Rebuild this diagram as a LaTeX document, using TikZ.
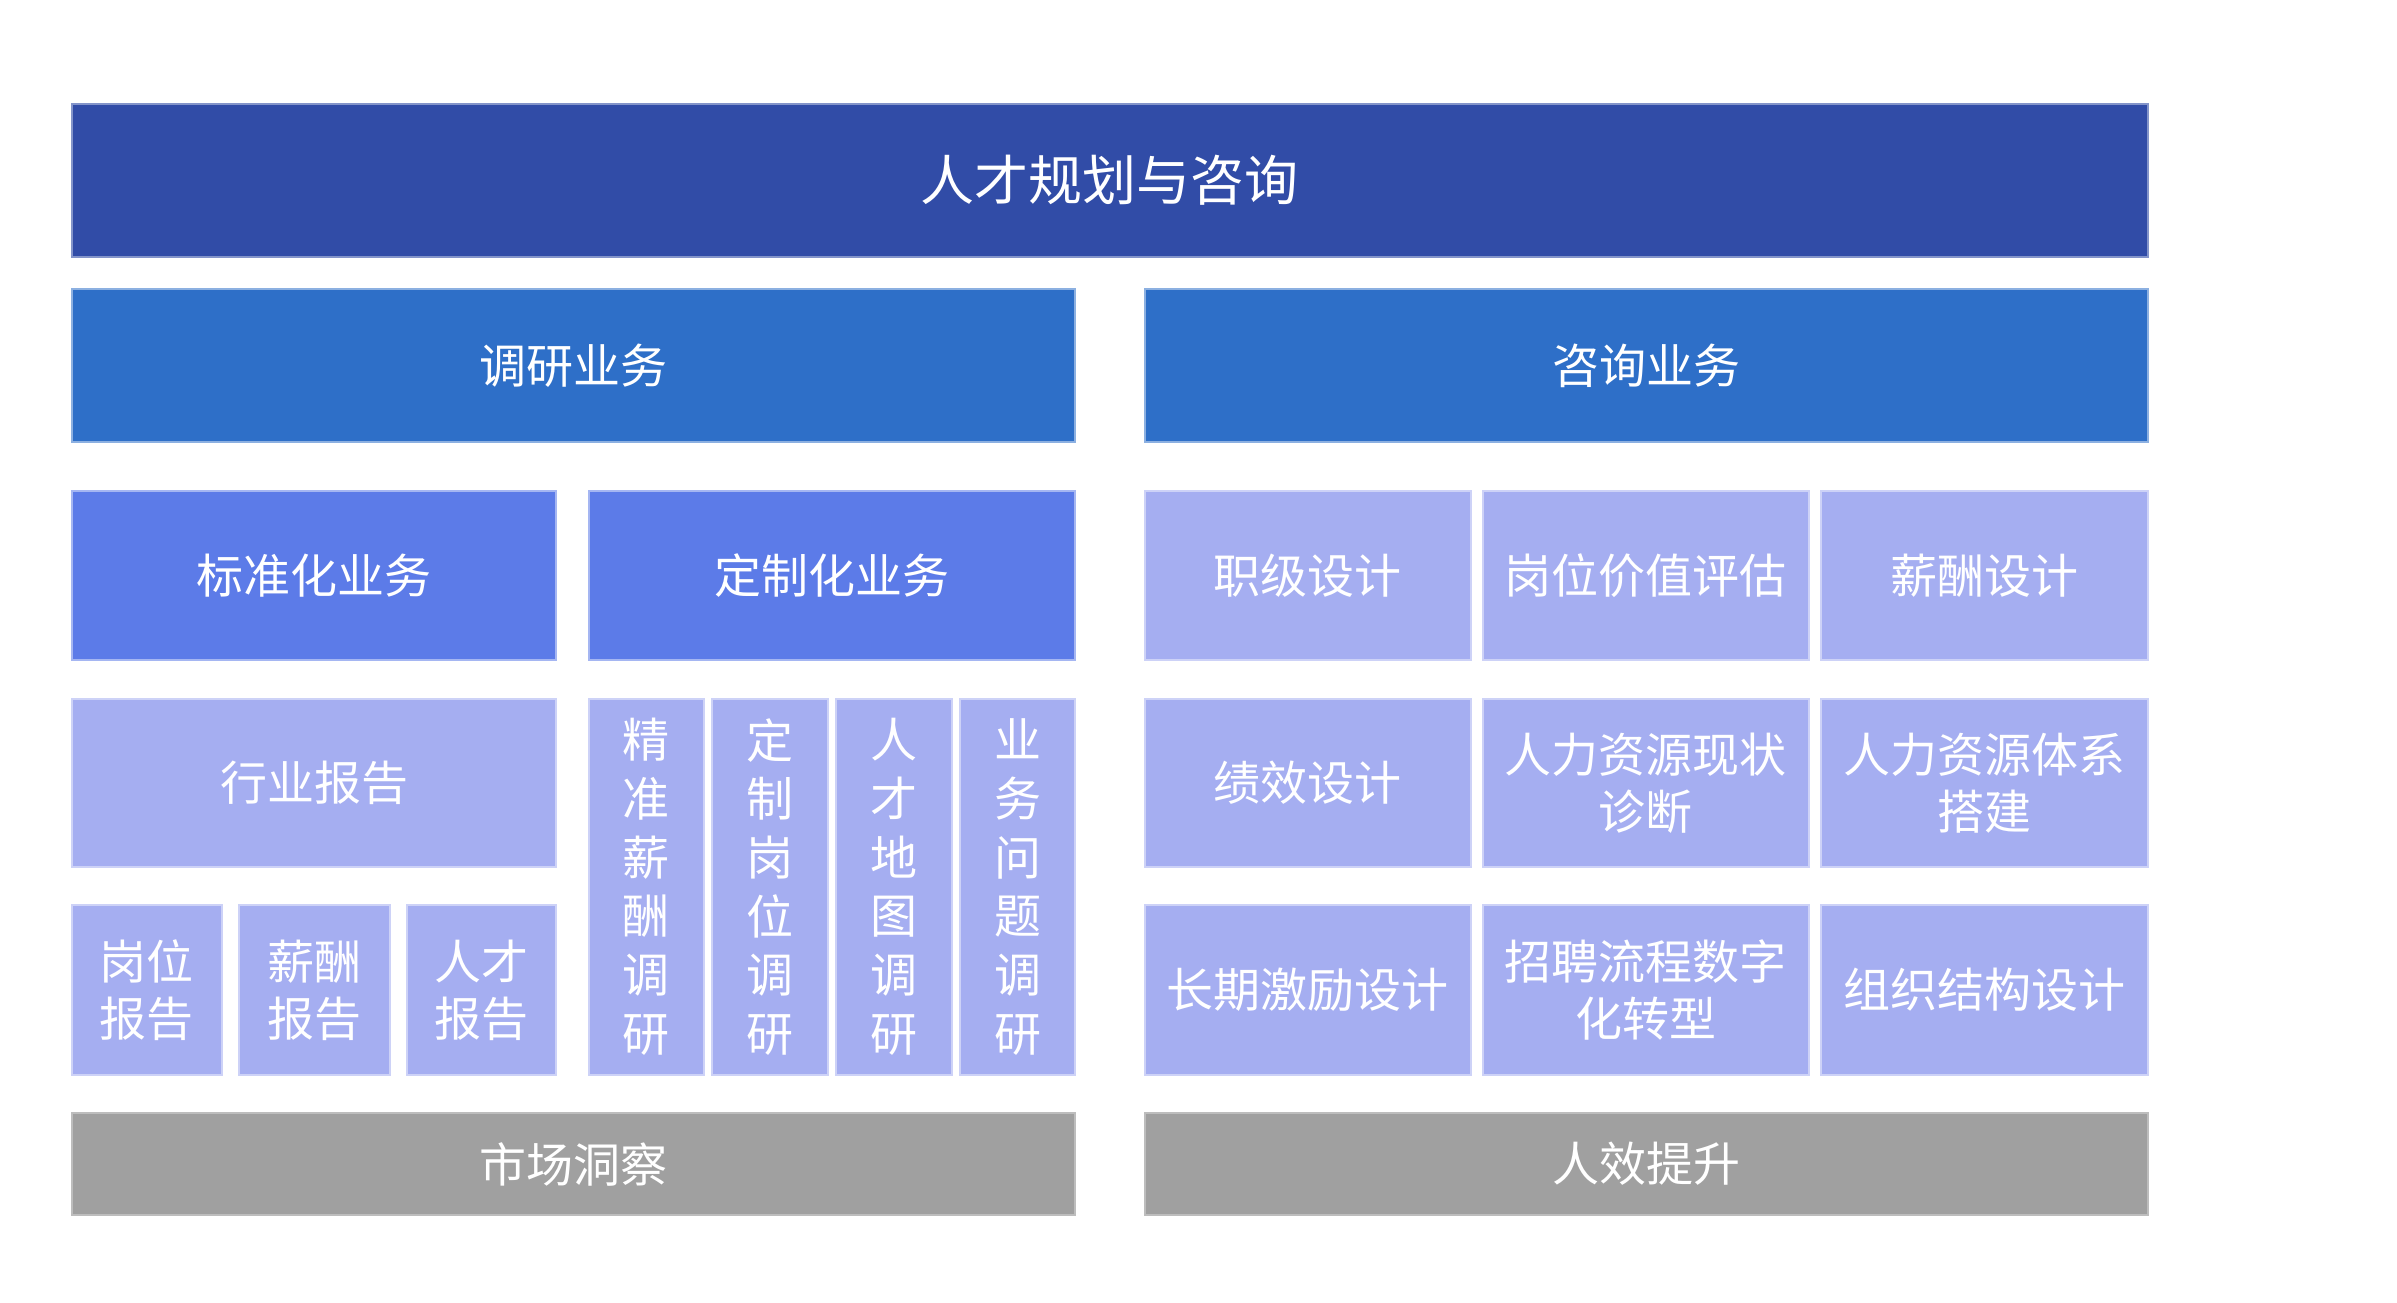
\documentclass[tikz,border=0pt]{standalone}
\usepackage{fontspec}
\setmainfont{Noto Sans CJK SC}
\definecolor{cTop}{HTML}{314CA7}
\definecolor{cMid}{HTML}{2E6FC8}
\definecolor{cSub}{HTML}{5C7BE8}
\definecolor{cLite}{HTML}{A5AEF1}
\definecolor{cGray}{HTML}{A0A0A0}
\newcommand\bx[7]{%
  \node[#6, minimum width={#4pt-#2pt}, minimum height={#5pt-#3pt}]
    (#1) at ({(#2+#4)/2},{(#3+#5)/2}) {#7};}
\begin{document}
\begin{tikzpicture}[x=1pt,y=-1pt,
  base/.style={rectangle, inner sep=0pt, text=white, align=center,
    line width=2pt, font=\fontsize{47}{57}\selectfont},
  topbox/.style={base, fill=cTop, draw=cTop!60!white, font=\fontsize{54}{60}\selectfont},
  midbox/.style={base, fill=cMid, draw=cMid!55!white},
  subbox/.style={base, fill=cSub, draw=cSub!55!white},
  litebox/.style={base, fill=cLite, draw=cLite!55!white},
  vbox/.style={litebox, font=\fontsize{47}{58.7}\selectfont},
  graybox/.style={base, fill=cGray, draw=cGray!70!white}]
\useasboundingbox (0,0) rectangle (2397,1302);
\fill[white] (0,0) rectangle (2397,1302);
% level 1
\bx{top}{71.8}{104}{2147.8}{257}{topbox}{人才规划与咨询}
% level 2
\bx{dy}{71.8}{289}{1074.7}{442}{midbox}{调研业务}
\bx{zx}{1145}{289}{2147.8}{442}{midbox}{咨询业务}
% level 3
\bx{bzh}{71.8}{491}{556.4}{660}{subbox}{标准化业务}
\bx{dzh}{588.5}{491}{1074.7}{660}{subbox}{定制化业务}
\bx{zjsj}{1145}{491}{1470.6}{660}{litebox}{职级设计}
\bx{gwjz}{1482.8}{491}{1808.5}{660}{litebox}{岗位价值评估}
\bx{xcsj}{1820.7}{491}{2147.8}{660}{litebox}{薪酬设计}
% level 4
\bx{hybg}{71.8}{699}{556.4}{867}{litebox}{行业报告}
\bx{v1}{588.5}{699}{704.2}{1074.7}{vbox}{精\\准\\薪\\酬\\调\\研}
\bx{v2}{712.3}{699}{827.8}{1074.7}{vbox}{定\\制\\岗\\位\\调\\研}
\bx{v3}{836.3}{699}{951.8}{1074.7}{vbox}{人\\才\\地\\图\\调\\研}
\bx{v4}{960.3}{699}{1074.7}{1074.7}{vbox}{业\\务\\问\\题\\调\\研}
\bx{jxsj}{1145}{699}{1470.6}{867}{litebox}{绩效设计}
\bx{xzzd}{1482.8}{699}{1808.5}{867}{litebox}{人力资源现状\\诊断}
\bx{txdj}{1820.7}{699}{2147.8}{867}{litebox}{人力资源体系\\搭建}
% level 5
\bx{gwbg}{71.8}{905}{221.7}{1074.7}{litebox}{岗位\\报告}
\bx{xcbg}{238.5}{905}{389.8}{1074.7}{litebox}{薪酬\\报告}
\bx{rcbg}{406.6}{905}{556.4}{1074.7}{litebox}{人才\\报告}
\bx{cqjl}{1145}{905}{1470.6}{1074.7}{litebox}{长期激励设计}
\bx{zplc}{1482.8}{905}{1808.5}{1074.7}{litebox}{招聘流程数字\\化转型}
\bx{zzjg}{1820.7}{905}{2147.8}{1074.7}{litebox}{组织结构设计}
% bottom
\bx{scdc}{71.8}{1113}{1074.7}{1215}{graybox}{市场洞察}
\bx{rxts}{1145}{1113}{2147.8}{1215}{graybox}{人效提升}
\end{tikzpicture}
\end{document}
